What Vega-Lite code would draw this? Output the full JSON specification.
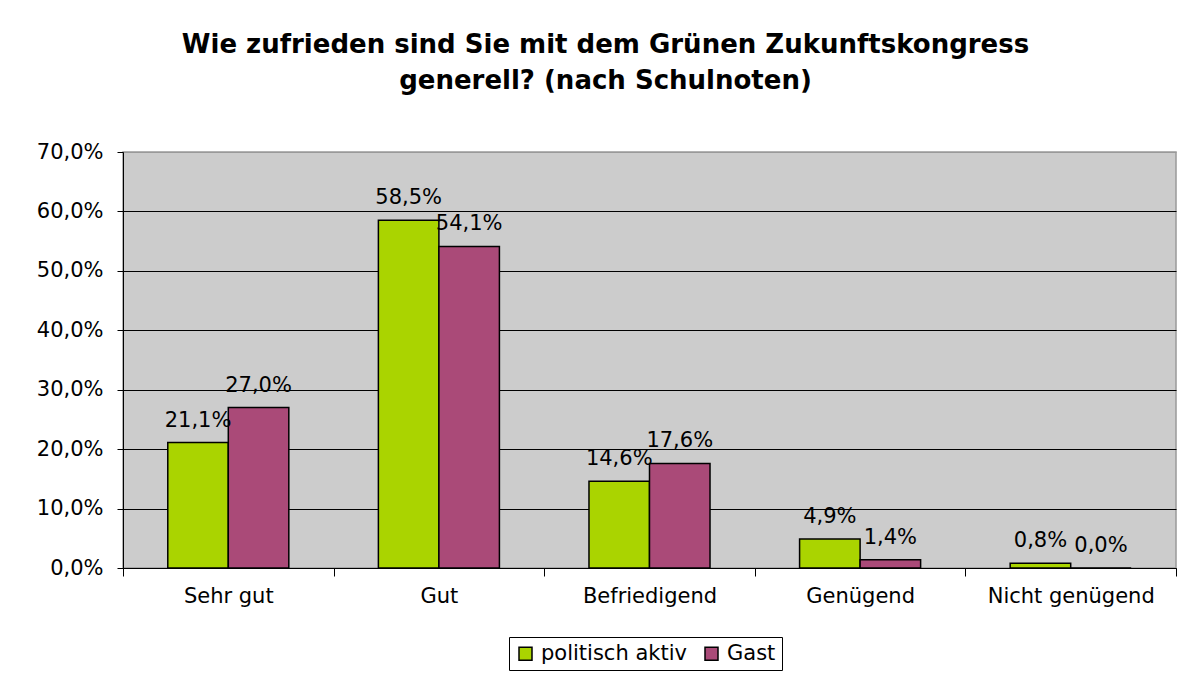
{
  "$schema": "https://vega.github.io/schema/vega-lite/v6.json",
  "width": 1053,
  "height": 416,
  "autosize": "none",
  "padding": {"left": 123, "top": 152, "right": 14, "bottom": 109},
  "background": "white",
  "title": {
    "text": ["Wie zufrieden sind Sie mit dem Grünen Zukunftskongress", "generell? (nach Schulnoten)"],
    "font": "DejaVu Sans",
    "fontSize": 26,
    "fontWeight": "bold",
    "color": "black",
    "anchor": "middle",
    "frame": "group",
    "dx": -44,
    "offset": 47,
    "lineHeight": 36
  },
  "data": {
    "values": [
      {"note": "Sehr gut", "gruppe": "politisch aktiv", "wert": 0.211},
      {"note": "Sehr gut", "gruppe": "Gast", "wert": 0.270},
      {"note": "Gut", "gruppe": "politisch aktiv", "wert": 0.585},
      {"note": "Gut", "gruppe": "Gast", "wert": 0.541},
      {"note": "Befriedigend", "gruppe": "politisch aktiv", "wert": 0.146},
      {"note": "Befriedigend", "gruppe": "Gast", "wert": 0.176},
      {"note": "Genügend", "gruppe": "politisch aktiv", "wert": 0.049},
      {"note": "Genügend", "gruppe": "Gast", "wert": 0.014},
      {"note": "Nicht genügend", "gruppe": "politisch aktiv", "wert": 0.008},
      {"note": "Nicht genügend", "gruppe": "Gast", "wert": 0.0}
    ]
  },
  "encoding": {
    "x": {
      "field": "note",
      "type": "nominal",
      "sort": ["Sehr gut", "Gut", "Befriedigend", "Genügend", "Nicht genügend"],
      "scale": {"paddingInner": 0, "paddingOuter": 0},
      "axis": {
        "title": null,
        "labelAngle": 0,
        "tickBand": "extent",
        "tickSize": 8,
        "tickColor": "black",
        "domainColor": "black",
        "labelFont": "DejaVu Sans",
        "labelFontSize": 21,
        "labelColor": "black",
        "labelPadding": 9,
        "grid": false
      }
    },
    "xOffset": {
      "field": "gruppe",
      "sort": ["politisch aktiv", "Gast"],
      "scale": {"paddingInner": 0, "paddingOuter": 0.74}
    },
    "y": {
      "field": "wert",
      "type": "quantitative",
      "scale": {"domain": [0, 0.7], "nice": false},
      "axis": {
        "title": null,
        "values": [0, 0.1, 0.2, 0.3, 0.4, 0.5, 0.6, 0.7],
        "format": ".1%",
        "grid": true,
        "gridColor": {"condition": {"test": "datum.value >= 0.69", "value": "#999999"}, "value": "black"},
        "gridOpacity": 1,
        "tickSize": 6,
        "tickColor": "black",
        "domainColor": "black",
        "labelFont": "DejaVu Sans",
        "labelFontSize": 21,
        "labelColor": "black",
        "labelPadding": 14
      }
    }
  },
  "layer": [
    {
      "mark": {"type": "bar", "stroke": "black", "strokeWidth": 1.5},
      "encoding": {
        "color": {
          "field": "gruppe",
          "type": "nominal",
          "sort": ["politisch aktiv", "Gast"],
          "scale": {"domain": ["politisch aktiv", "Gast"], "range": ["#AAD400", "#AA4A78"]},
          "legend": {
            "title": null,
            "orient": "none",
            "legendX": 386,
            "legendY": 485,
            "direction": "horizontal",
            "strokeColor": "black",
            "fillColor": "white",
            "padding": 6,
            "symbolType": "square",
            "symbolSize": 169,
            "symbolStrokeColor": "black",
            "symbolStrokeWidth": 1.5,
            "symbolOpacity": 1,
            "labelFont": "DejaVu Sans",
            "labelFontSize": 21,
            "labelColor": "black",
            "columnPadding": 14,
            "labelOffset": 5
          }
        }
      }
    },
    {
      "mark": {"type": "text", "baseline": "alphabetic", "dy": -16, "font": "DejaVu Sans", "fontSize": 21, "color": "black"},
      "encoding": {
        "text": {"field": "wert", "type": "quantitative", "format": ".1%"}
      }
    }
  ],
  "config": {
    "view": {"fill": "#CCCCCC", "stroke": "#999999", "strokeWidth": 1.5},
    "locale": {"number": {"decimal": ",", "thousands": ".", "grouping": [3], "currency": ["", " €"]}}
  }
}
